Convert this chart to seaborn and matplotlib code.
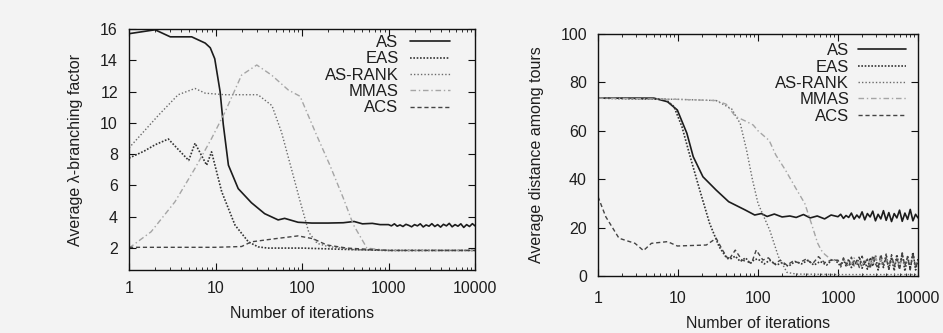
import matplotlib
matplotlib.use("Agg")
import matplotlib.pyplot as plt
from matplotlib.ticker import FixedLocator, FixedFormatter, LogLocator, NullFormatter
import seaborn as sns

# ---------------- data ----------------
SERIES = ["AS", "EAS", "AS-RANK", "MMAS", "ACS"]
X_TICKS = [1, 10, 100, 1000, 10000]
X_TICK_LABELS = ["1", "10", "100", "1000", "10000"]
LEFT_Y_TICKS = [2, 4, 6, 8, 10, 12, 14, 16]
RIGHT_Y_TICKS = [0, 20, 40, 60, 80, 100]

TAIL_X = [1000, 1080, 1170, 1260, 1360, 1470, 1590, 1720, 1850, 2000, 2160,
          2330, 2520, 2720, 2940, 3170, 3430, 3700, 4000, 4320, 4670, 5040,
          5440, 5880, 6350, 6860, 7410, 8000, 8640, 9330, 10000]

# Left panel: average lambda-branching factor
L_AS_X = [1, 2, 3, 5.3, 7.6, 8.7, 9.8, 11.3, 12.3, 14.1, 18.3, 26, 37, 53, 63,
          90, 130, 200, 300, 400, 500, 650, 800]
L_AS_Y = [15.7, 15.95, 15.5, 15.5, 15.1, 14.8, 14.1, 12.0, 9.9, 7.3, 5.8, 4.9,
          4.2, 3.8, 3.9, 3.65, 3.6, 3.6, 3.62, 3.7, 3.55, 3.58, 3.5]
L_AS_TAIL = [3.5, 3.42, 3.55, 3.4, 3.48, 3.38, 3.52, 3.45, 3.36, 3.5, 3.42,
             3.55, 3.35, 3.48, 3.4, 3.56, 3.38, 3.5, 3.34, 3.52, 3.42, 3.58,
             3.36, 3.5, 3.4, 3.55, 3.32, 3.5, 3.38, 3.56, 3.42]

L_EAS_X = [1, 1.5, 2, 2.85, 4.9, 5.8, 7.9, 9.0, 11.8, 16.8, 24, 31, 40, 100,
           200, 400, 1000, 10000]
L_EAS_Y = [7.75, 8.2, 8.6, 8.97, 7.6, 8.7, 7.3, 8.15, 5.6, 3.47, 2.4, 2.08,
           2.0, 2.0, 1.95, 1.9, 1.85, 1.85]

L_RANK_X = [1, 2.2, 3.7, 5.8, 7.6, 12.8, 31, 45, 58, 76, 95, 120, 150, 200,
            400, 1000, 10000]
L_RANK_Y = [8.4, 10.5, 11.8, 12.2, 11.9, 11.8, 11.8, 11.1, 9.4, 7.0, 5.0,
            3.0, 2.3, 2.1, 1.9, 1.85, 1.85]

L_MMAS_X = [1, 1.8, 3.4, 5.8, 9, 12.9, 20, 30, 44.6, 69.5, 95, 148, 210, 300,
            392, 563, 1000, 10000]
L_MMAS_Y = [2.0, 3.04, 4.96, 7.1, 9.0, 10.7, 13.05, 13.7, 13.05, 12.1, 11.7,
            9.2, 7.3, 5.2, 3.5, 2.0, 1.85, 1.85]

L_ACS_X = [1, 10, 20, 26, 49, 90, 134, 193, 330, 1000, 10000]
L_ACS_Y = [2.05, 2.05, 2.1, 2.4, 2.6, 2.78, 2.6, 2.2, 2.0, 1.85, 1.85]

# Right panel: average distance among tours
R_AS_X = [1, 5, 7.4, 9.8, 12.9, 15.5, 20.5, 30, 43, 69, 91, 110, 130, 160,
          200, 250, 300, 370, 450, 550, 680, 820]
R_AS_Y = [73.5, 73.5, 72, 68.6, 59, 49.3, 41, 35.5, 30.7, 27.3, 25.2, 25.8,
          24.6, 25.6, 24.4, 24.8, 24.2, 25.4, 24.0, 24.8, 23.6, 25.2]
R_AS_TAIL = [24.5, 25.5, 23.8, 25.0, 24.2, 26.0, 23.5, 25.2, 24.0, 26.5, 23.2,
             25.8, 24.4, 26.8, 22.8, 25.5, 23.6, 27.0, 23.0, 26.2, 22.5, 25.8,
             24.0, 27.2, 22.6, 26.0, 23.4, 27.5, 22.8, 25.5, 24.0]

R_EAS_X = [1, 7, 8.9, 11.2, 14.2, 18.7, 24.8, 32.7, 39.5, 45, 52, 60, 70, 80,
           90, 100, 120, 140, 170, 200, 240, 290, 350, 420, 500, 600, 720, 860]
R_EAS_Y = [73.5, 73, 70, 61.7, 49.3, 35.5, 21.8, 12.1, 8.0, 7.0, 8.2, 6.0,
           7.5, 5.2, 6.8, 7.0, 5.0, 6.5, 4.5, 5.5, 4.0, 6.0, 5.0, 6.5, 4.5,
           6.0, 4.5, 7.0]
R_EAS_TAIL = [5.5, 3.8, 6.8, 4.2, 7.0, 3.5, 6.2, 4.5, 8.0, 3.2, 6.5, 2.8, 7.5,
              4.0, 8.5, 2.5, 7.0, 3.5, 9.0, 2.8, 7.8, 2.2, 8.8, 3.5, 9.5, 2.0,
              8.0, 3.0, 9.8, 2.5, 7.0]

R_RANK_X = [1, 10, 30, 47, 60, 72, 85, 100, 140, 180, 230, 300, 1000, 10000]
R_RANK_Y = [73.5, 73, 72.5, 69, 63, 52, 40, 30, 19, 8, 1.5, 0.8, 0.6, 0.6]

R_MMAS_X = [1, 10, 30, 40, 52, 70, 87, 100, 138, 167, 220, 300, 384, 464,
            556, 616, 680, 740, 820]
R_MMAS_Y = [73.5, 73, 72.5, 71, 66, 64, 62.4, 60, 56, 50, 43.8, 36, 30, 21.8,
            13.6, 10.7, 9, 8, 6.5]
R_MMAS_TAIL = [6.5, 5.0, 7.2, 5.5, 6.0, 4.8, 7.5, 5.2, 6.8, 4.5, 7.0, 5.5,
               6.2, 4.8, 7.8, 5.0, 6.5, 4.2, 7.2, 5.5, 6.8, 4.5, 7.5, 5.0,
               6.0, 4.8, 7.0, 5.2, 6.5, 4.5, 6.0]

R_ACS_X = [1, 1.25, 1.83, 2.9, 3.7, 4.65, 7.4, 9.8, 22.6, 30, 36, 43, 52, 63,
           83, 95, 115, 135, 160, 190, 230, 270, 330, 400, 480, 570, 680, 820]
R_ACS_Y = [32.8, 24.5, 15.6, 13.5, 10.5, 13.5, 14.2, 12.4, 12.8, 15.6, 10.7,
           6.6, 10.7, 6.6, 5.3, 10.7, 6.6, 7.5, 5.0, 6.5, 4.5, 6.0, 5.5, 7.0,
           5.0, 8.0, 5.5, 6.5]
R_ACS_TAIL = [6.5, 4.5, 7.5, 5.0, 3.8, 7.8, 4.2, 6.5, 3.5, 8.2, 4.8, 7.0, 3.0,
              8.5, 5.0, 3.2, 9.0, 4.5, 7.5, 2.8, 8.8, 4.0, 7.0, 2.5, 9.2, 4.2,
              8.0, 2.5, 9.5, 3.5, 6.0]

LEFT = {
    "AS": (L_AS_X + TAIL_X, L_AS_Y + L_AS_TAIL),
    "EAS": (L_EAS_X, L_EAS_Y),
    "AS-RANK": (L_RANK_X, L_RANK_Y),
    "MMAS": (L_MMAS_X, L_MMAS_Y),
    "ACS": (L_ACS_X, L_ACS_Y),
}
RIGHT = {
    "AS": (R_AS_X + TAIL_X, R_AS_Y + R_AS_TAIL),
    "EAS": (R_EAS_X + TAIL_X, R_EAS_Y + R_EAS_TAIL),
    "AS-RANK": (R_RANK_X, R_RANK_Y),
    "MMAS": (R_MMAS_X + TAIL_X, R_MMAS_Y + R_MMAS_TAIL),
    "ACS": (R_ACS_X + TAIL_X, R_ACS_Y + R_ACS_TAIL),
}

# ---------------- styling ----------------
STYLES = {
    "AS": dict(color="#1c1c1c", ls="-", lw=1.2),
    "EAS": dict(color="#333333", ls=(0, (1, 1)), lw=1.2),
    "AS-RANK": dict(color="#6a6a6a", ls=(0, (1, 1.5)), lw=1.0),
    "MMAS": dict(color="#a5a5a5", ls=(0, (4, 2, 1, 2)), lw=1.0),
    "ACS": dict(color="#444444", ls=(0, (3, 2)), lw=1.0),
}

sns.set_theme(style="ticks")
plt.rcParams["font.family"] = ["Liberation Sans", "DejaVu Sans"]
BG = "#f3f3f3"
TXT = "#1e1e1e"
FS = 11.5

fig = plt.figure(figsize=(9.43, 3.33), dpi=100, facecolor=BG)
ax1 = fig.add_axes([129 / 943, 1 - 270 / 333, 346 / 943, 241 / 333])
ax2 = fig.add_axes([598 / 943, 1 - 276 / 333, 320 / 943, 242 / 333])


def draw(ax, data):
    for name in SERIES:
        xs, ys = data[name]
        st = STYLES[name]
        sns.lineplot(x=xs, y=ys, ax=ax, color=st["color"], linewidth=st["lw"],
                     linestyle=st["ls"], label=name, estimator=None, sort=False)


def style_axes(ax, yticks, ylim, ylabel, tick_pad_x, xlabelpad, legend_anchor,
               handlelength, handletextpad):
    ax.set_facecolor(BG)
    ax.set_xscale("log")
    ax.set_xlim(1, 10000)
    ax.set_ylim(*ylim)
    ax.xaxis.set_major_locator(FixedLocator(X_TICKS))
    ax.xaxis.set_major_formatter(FixedFormatter(X_TICK_LABELS))
    ax.xaxis.set_minor_locator(LogLocator(base=10, subs=range(2, 10)))
    ax.xaxis.set_minor_formatter(NullFormatter())
    ax.set_yticks(yticks)
    ax.set_yticklabels([str(v) for v in yticks])
    for s in ax.spines.values():
        s.set_visible(True)
        s.set_color("#111111")
        s.set_linewidth(1.0)
    ax.tick_params(axis="both", which="major", direction="in", length=5,
                   width=0.8, top=True, right=True, colors="#111111",
                   labelcolor=TXT, labelsize=FS)
    ax.tick_params(axis="x", which="major", pad=tick_pad_x)
    ax.tick_params(axis="y", which="major", pad=8)
    ax.tick_params(axis="x", which="minor", direction="in", length=2.5,
                   width=0.6, top=True, bottom=True, colors="#111111")
    ax.set_xlabel("Number of iterations", fontsize=FS, color=TXT,
                  labelpad=xlabelpad)
    ax.set_ylabel(ylabel, fontsize=FS, color=TXT, labelpad=12)
    ax.grid(False)
    leg = ax.legend(loc="upper right", bbox_to_anchor=legend_anchor,
                    markerfirst=False, frameon=False, fontsize=12,
                    handlelength=handlelength, handletextpad=handletextpad,
                    labelspacing=0.08, borderaxespad=0, borderpad=0)
    for t in leg.get_texts():
        t.set_color(TXT)


draw(ax1, LEFT)
draw(ax2, RIGHT)
style_axes(ax1, LEFT_Y_TICKS, (0.6, 16), "Average λ-branching factor", 8, 7,
           (0.928, 0.975), 2.4, 0.7)
style_axes(ax2, RIGHT_Y_TICKS, (0, 100), "Average distance among tours", 11, 7,
           (0.962, 0.962), 2.9, 0.5)

fig.savefig("out.png", dpi=100, facecolor=BG)
